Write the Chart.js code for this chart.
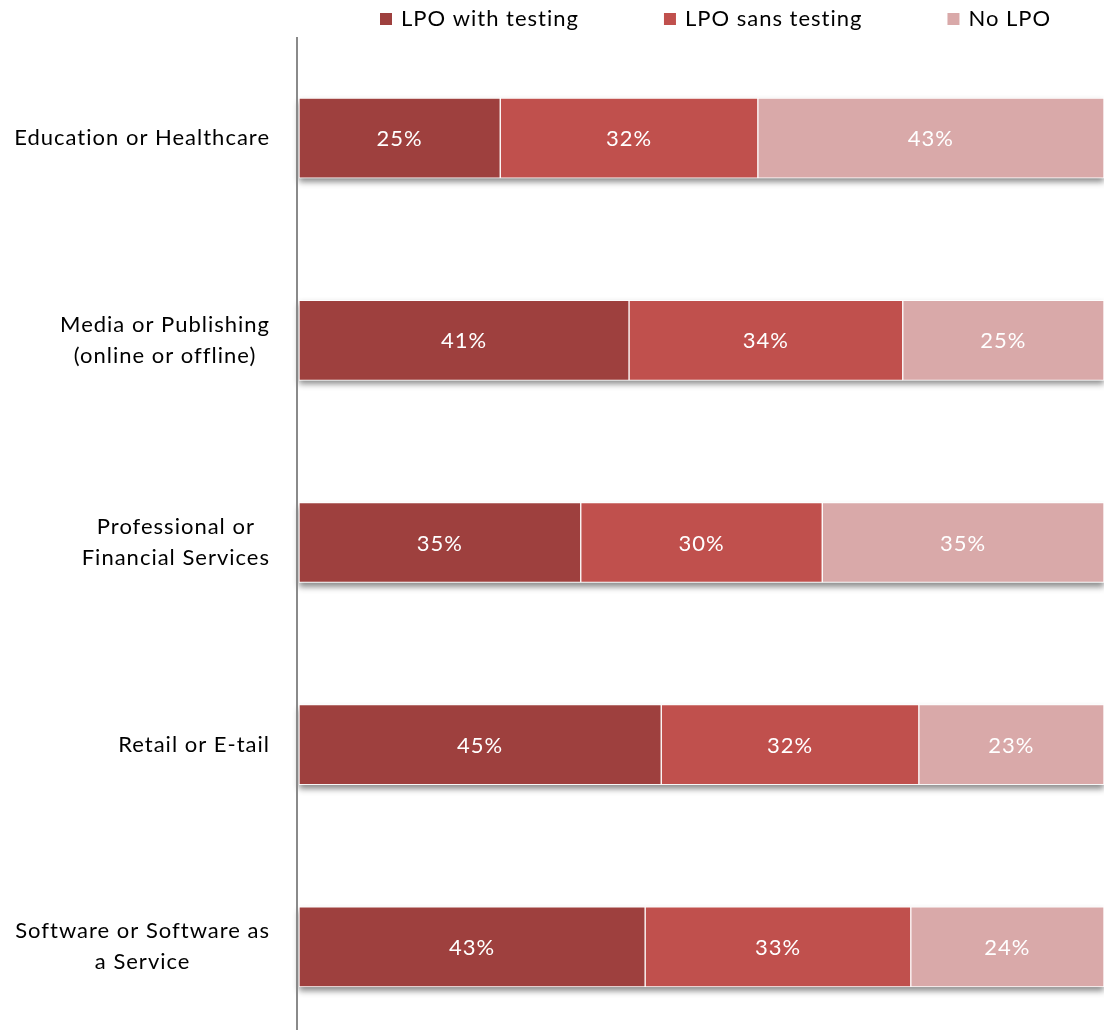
<!DOCTYPE html>
<html><head><meta charset="utf-8">
<script src="https://cdn.jsdelivr.net/npm/chart.js@4.4.1/dist/chart.umd.min.js"></script>
<style>
html,body{margin:0;padding:0;background:#fff;overflow:hidden;width:1104px;height:1030px}
#wrap{position:absolute;left:0;top:0;width:1104px;height:1048px}
</style>
</head><body><div id="wrap"><canvas id="c"></canvas></div>
<script>
const categories = [
  ["Education or Healthcare"],
  ["Media or Publishing", "(online or offline)"],
  ["Professional or", "Financial Services"],
  ["Retail or E-tail"],
  ["Software or Software as", "a Service"]
];
const seriesNames = ["LPO with testing", "LPO sans testing", "No LPO"];
const lpoWithTesting = [25, 41, 35, 45, 43];
const lpoSansTesting = [32, 34, 30, 32, 33];
const noLpo = [43, 25, 35, 23, 24];

const colors = ['#9E403E', '#C0504D', '#D9A9A9'];
const FONT = '22px Lato';
const SPACING = '1px';

const shadowPlugin = {
  id: 'barShadow',
  beforeDatasetsDraw(chart) {
    const ctx = chart.ctx;
    const first = chart.getDatasetMeta(0).data;
    const last = chart.getDatasetMeta(chart.data.datasets.length - 1).data;
    ctx.save();
    ctx.shadowColor = 'rgba(0,0,0,0.45)';
    ctx.shadowBlur = 6;
    ctx.shadowOffsetY = 4;
    ctx.fillStyle = '#ffffff';
    first.forEach((el, i) => {
      const x0 = el.base, x1 = last[i].x;
      ctx.fillRect(x0, el.y - el.height / 2, x1 - x0, el.height);
    });
    ctx.restore();
  }
};

const valueLabels = {
  id: 'valueLabels',
  afterDatasetsDraw(chart) {
    const ctx = chart.ctx;
    ctx.save();
    ctx.fillStyle = '#ffffff';
    ctx.font = FONT;
    ctx.letterSpacing = SPACING;
    ctx.textAlign = 'center';
    ctx.textBaseline = 'middle';
    chart.data.datasets.forEach((ds, di) => {
      chart.getDatasetMeta(di).data.forEach((el, i) => {
        const p = el.getCenterPoint();
        ctx.fillText(ds.data[i] + '%', p.x, p.y + 1);
      });
    });
    ctx.restore();
  }
};

const catLabels = {
  id: 'catLabels',
  afterDraw(chart) {
    const ctx = chart.ctx;
    const ys = chart.scales.y;
    ctx.save();
    ctx.strokeStyle = '#8a8a8a';
    ctx.lineWidth = 2;
    ctx.beginPath();
    ctx.moveTo(ys.right - 2, chart.chartArea.top);
    ctx.lineTo(ys.right - 2, chart.chartArea.bottom);
    ctx.stroke();
    ctx.fillStyle = '#000000';
    ctx.font = FONT;
    ctx.letterSpacing = SPACING;
    ctx.textBaseline = 'middle';
    ctx.textAlign = 'center';
    const lh = 31;
    categories.forEach((lines, i) => {
      const y = ys.getPixelForValue(i);
      const w = Math.max(...lines.map(l => ctx.measureText(l).width));
      const right = ys.right - 29;
      const cx = right - w / 2;
      lines.forEach((l, j) => {
        ctx.fillText(l, cx, y - (lines.length - 1) * lh / 2 + j * lh);
      });
    });
    ctx.restore();
  }
};

const topLegend = {
  id: 'topLegend',
  afterDraw(chart) {
    const ctx = chart.ctx;
    ctx.save();
    ctx.font = FONT;
    ctx.letterSpacing = SPACING;
    ctx.textBaseline = 'middle';
    ctx.textAlign = 'left';
    let x = 380;
    const cy = 19;
    seriesNames.forEach((n, i) => {
      ctx.fillStyle = colors[i];
      ctx.fillRect(x, cy - 6, 12, 12);
      ctx.fillStyle = '#000000';
      ctx.fillText(n, x + 21, cy);
      x += 21 + ctx.measureText(n).width + 85;
    });
    ctx.restore();
  }
};

new Chart(document.getElementById('c'), {
  type: 'bar',
  data: {
    labels: categories,
    datasets: [
      { label: seriesNames[0], data: lpoWithTesting, backgroundColor: colors[0] },
      { label: seriesNames[1], data: lpoSansTesting, backgroundColor: colors[1] },
      { label: seriesNames[2], data: noLpo, backgroundColor: colors[2] }
    ].map(d => Object.assign(d, {
      borderColor: 'rgba(255,255,255,0.75)',
      borderWidth: 1,
      borderSkipped: false,
      barThickness: 80
    }))
  },
  options: {
    indexAxis: 'y',
    responsive: true,
    maintainAspectRatio: false,
    devicePixelRatio: 1,
    animation: false,
    layout: { padding: { top: 37, right: 0, left: 0, bottom: 0 } },
    plugins: { legend: { display: false }, tooltip: { enabled: false } },
    scales: {
      x: { display: false, stacked: true, min: 0, max: 100 },
      y: {
        stacked: true,
        grid: { display: false },
        border: { display: false },
        ticks: { display: false },
        afterFit(s) { s.width = 299; }
      }
    }
  },
  plugins: [shadowPlugin, valueLabels, catLabels, topLegend]
});
</script>
</body></html>
